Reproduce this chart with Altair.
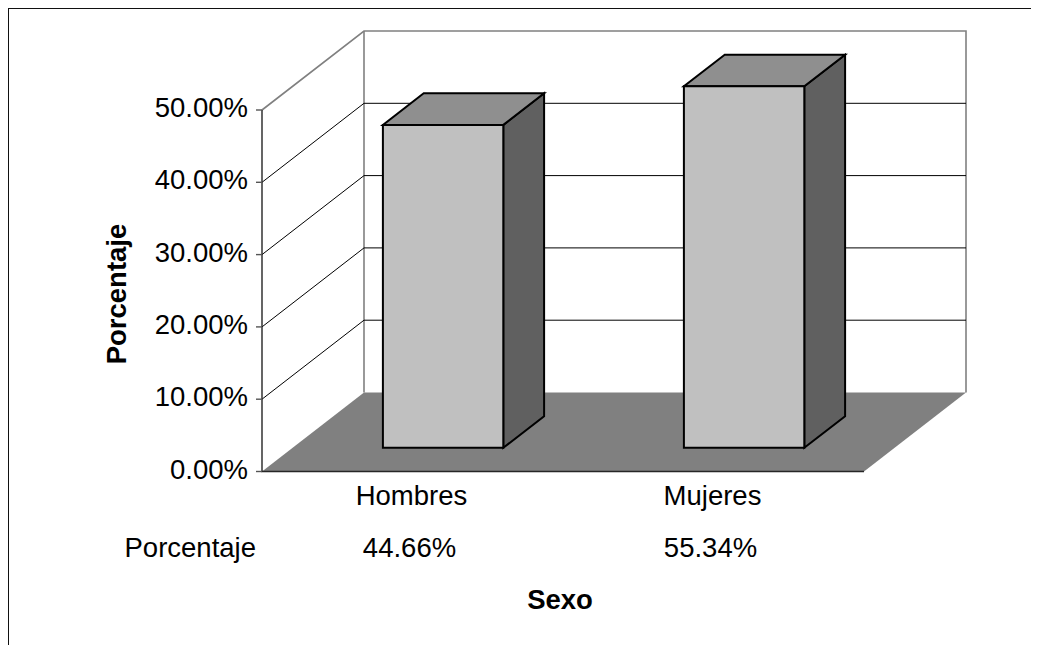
import altair as alt
import pandas as pd

categories = ["Hombres", "Mujeres"]
values = [44.66, 55.34]
tick_values = [0, 10, 20, 30, 40, 50]
tick_labels = ["0.00%", "10.00%", "20.00%", "30.00%", "40.00%", "50.00%"]
grid_values = [10, 20, 30, 40]
value_labels = ["44.66%", "55.34%"]
category_ticks = [0.5, 1.5]
row_title = "Porcentaje"
x_title = "Sexo"
y_title = "Porcentaje"

TOTAL_W, TOTAL_H = 1023, 637
LEFT, PLOT_H = 254, 463.5             # room left of the value axis, height down to the 0% line
W = TOTAL_W - LEFT
FONT = "Liberation Sans"
FS = 27.5
AXIS_MAX = 50
PX_CAT, PX_PCT = 301.0, 7.23          # pixels per category / per percent
DEPTH_X, DEPTH_Y = 102 / PX_CAT, 79 / PX_PCT
BAR_W, D0, D1 = 0.4, 0.3, 0.7
TICK = 6 / PX_CAT

xs = alt.Scale(domain=[0, W / PX_CAT], nice=False, zero=False)
ys = alt.Scale(domain=[0, PLOT_H / PX_PCT], nice=False, zero=False)
X = lambda f="x": alt.X(f"{f}:Q", scale=xs, axis=None)
Y = lambda f="y": alt.Y(f"{f}:Q", scale=ys, axis=None)


def px(c, d):
    return c + d * DEPTH_X


def py(v, d):
    return v + d * DEPTH_Y


# ---- frame (left and top edges only)
frame = pd.DataFrame({"x": [-LEFT / PX_CAT, -LEFT / PX_CAT, W / PX_CAT],
                      "y": [(PLOT_H - TOTAL_H) / PX_PCT, PLOT_H / PX_PCT, PLOT_H / PX_PCT],
                      "o": [0, 1, 2]})
frame_l = alt.Chart(frame).mark_line(color="#111111", strokeWidth=2).encode(
    x=X(), y=Y(), order=alt.Order("o:Q"))

# ---- floor
floor = pd.DataFrame({"y": [0.0, py(0, 1)], "x": [px(0, 0), px(0, 1)], "x2": [px(2, 0), px(2, 1)]})
floor_l = alt.Chart(floor).mark_area(orient="horizontal", color="#808080").encode(
    y=Y(), x=X(), x2="x2:Q")

# ---- back wall frame and top of left wall (grey)
wall = pd.DataFrame({"x": [px(0, 0), px(0, 1), px(2, 1), px(2, 1)],
                     "y": [AXIS_MAX, py(AXIS_MAX, 1), py(AXIS_MAX, 1), py(0, 1)],
                     "o": [0, 1, 2, 3]})
wall_edge = pd.DataFrame({"x": [px(0, 1), px(0, 1)], "y": [py(AXIS_MAX, 1), py(0, 1)]})
wall_l = alt.Chart(wall).mark_line(color="#808080", strokeWidth=1.6).encode(
    x=X(), y=Y(), order=alt.Order("o:Q"))
wall_edge_l = alt.Chart(wall_edge).mark_line(color="#808080", strokeWidth=1.6).encode(x=X(), y=Y())

# ---- gridlines: across the left wall, then along the back wall
grid_rows = []
for v in grid_values:
    grid_rows += [{"g": v, "o": 0, "x": px(0, 0), "y": py(v, 0)},
                  {"g": v, "o": 1, "x": px(0, 1), "y": py(v, 1)},
                  {"g": v, "o": 2, "x": px(2, 1), "y": py(v, 1)}]
grid_l = alt.Chart(pd.DataFrame(grid_rows)).mark_line(color="black", strokeWidth=1).encode(
    x=X(), y=Y(), detail="g:N", order=alt.Order("o:Q"))

# ---- value axis line, tick marks and tick labels, and front floor edge
axis_df = pd.DataFrame({"x": [px(0, 0), px(0, 0), px(2, 0)], "y": [AXIS_MAX, 0, 0], "o": [0, 1, 2]})
axis_line = alt.Chart(axis_df).mark_line(color="#262626", strokeWidth=1.4).encode(
    x=X(), y=Y(), order=alt.Order("o:Q"))
tick_df = pd.DataFrame({"y": tick_values, "t": tick_labels, "x": -TICK, "x2": 0.0})
tick_l = alt.Chart(tick_df).mark_rule(color="#555555", strokeWidth=1.4).encode(
    x=X(), x2="x2:Q", y=Y())
text = dict(font=FONT, fontSize=FS, color="black", baseline="middle", align="center")
tick_text = alt.Chart(tick_df).mark_text(**{**text, "align": "right", "dy": -1}).encode(
    x=alt.value(-14), y=Y(), text="t:N")
y_title_l = alt.Chart(pd.DataFrame({"t": [y_title]})).mark_text(
    **{**text, "fontWeight": "bold", "angle": 270}).encode(
    x=alt.value(-144), y=alt.value(286), text="t:N")

# ---- 3-D bars (drawn height is clipped at the axis maximum)
front_rows, top_rows, side_rows = [], [], []
for i, (c, v) in enumerate(zip(categories, values)):
    h = min(v, AXIS_MAX)
    lo, hi = i + 0.5 - BAR_W / 2, i + 0.5 + BAR_W / 2
    front_rows.append({"x": px(lo, D0), "x2": px(hi, D0), "y": py(0, D0), "y2": py(h, D0)})
    for d in (D0, D1):
        top_rows.append({"s": c, "y": py(h, d), "x": px(lo, d), "x2": px(hi, d)})
        side_rows.append({"s": c, "x": px(hi, d), "y": py(0, d), "y2": py(h, d)})

side_l = alt.Chart(pd.DataFrame(side_rows)).mark_area(
    orient="vertical", color="#606060", stroke="black", strokeWidth=2).encode(
    x=X(), y=Y(), y2="y2:Q", detail="s:N")
top_l = alt.Chart(pd.DataFrame(top_rows)).mark_area(
    orient="horizontal", color="#8f8f8f", stroke="black", strokeWidth=2).encode(
    y=Y(), x=X(), x2="x2:Q", detail="s:N")
front_l = alt.Chart(pd.DataFrame(front_rows)).mark_rect(color="#c0c0c0", stroke="black", strokeWidth=2).encode(
    x=X(), x2="x2:Q", y=Y(), y2="y2:Q")

# ---- category labels, data-table row and axis title under the floor
cat_df = pd.DataFrame({"t": categories, "x": category_ticks})
val_df = pd.DataFrame({"t": value_labels, "x": category_ticks})
cat_l = alt.Chart(cat_df).mark_text(**{**text, "dx": -1}).encode(x=X(), y=alt.value(489), text="t:N")
val_l = alt.Chart(val_df).mark_text(**{**text, "dx": -3}).encode(x=X(), y=alt.value(541), text="t:N")
row_l = alt.Chart(pd.DataFrame({"t": [row_title]})).mark_text(**{**text, "align": "right"}).encode(
    x=alt.value(-6), y=alt.value(541), text="t:N")
x_title_l = alt.Chart(pd.DataFrame({"t": [x_title]})).mark_text(**{**text, "fontWeight": "bold"}).encode(
    x=alt.value(298), y=alt.value(593), text="t:N")

chart = alt.layer(
    frame_l, floor_l, wall_l, wall_edge_l, grid_l, axis_line, tick_l, side_l, top_l, front_l,
    tick_text, y_title_l, cat_l, val_l, row_l, x_title_l,
).properties(
    width=W, height=PLOT_H,
    padding={"left": LEFT, "top": 0, "right": 0, "bottom": TOTAL_H - PLOT_H},
    autosize=alt.AutoSizeParams(type="none"),
).configure_view(stroke=None)

chart.save("out.html", embed_options={"renderer": "svg", "actions": False})
